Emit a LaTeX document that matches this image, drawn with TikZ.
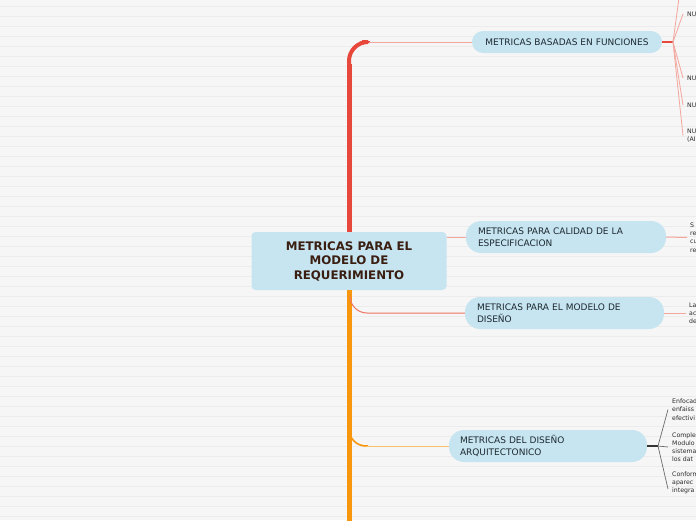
\documentclass[tikz,border=0pt]{standalone}
\usepackage{fontspec}
\setmainfont{DejaVu Sans}
\usepackage{tikz}

\definecolor{paper}{HTML}{F6F6F6}
\definecolor{stripe}{HTML}{ECECEC}
\definecolor{topicblue}{HTML}{C6E5F0}
\definecolor{topictext}{HTML}{1E2830}
\definecolor{centraltext}{HTML}{3A1E12}
\definecolor{trunkred}{HTML}{E8473C}
\definecolor{pinkline}{HTML}{F4A59C}
\definecolor{salmon}{HTML}{EE7462}
\definecolor{trunkorange}{HTML}{F8960E}
\definecolor{lightorange}{HTML}{F9C06A}
\definecolor{leaftext}{HTML}{2A2A2A}
\definecolor{graylink}{HTML}{6A6A6A}

\begin{document}
\begin{tikzpicture}[x=1pt, y=-1pt,
    topic/.style={fill=topicblue, text=topictext, font=\fontsize{9}{11.5}\selectfont,
        align=left, inner xsep=12pt, inner ysep=0pt, minimum height=32pt, rounded corners=15pt},
    leaf/.style={anchor=west, inner sep=0pt, align=left, text=leaftext,
        font=\fontsize{6.2}{8.2}\selectfont}]
    \useasboundingbox (0,0) rectangle (696,520);
    \clip (0,0) rectangle (696,520);
    \fill[paper] (0,0) rectangle (696,520);
    \foreach \y in {6,16,...,516}
        \draw[stripe, line width=0.8pt] (0,\y) -- (696,\y);

    \node[fill=topicblue, text=centraltext, rounded corners=4pt, minimum width=195pt,
        minimum height=58pt, align=center, font=\fontsize{11.8}{14.5}\selectfont\bfseries]
        at (349, 261) (central) {METRICAS PARA EL\\MODELO DE\\REQUERIMIENTO};

    \node[topic, minimum height=22pt, rounded corners=11pt, inner xsep=10pt, text width=170pt, align=center]
        at (567, 42) (basadas) {METRICAS BASADAS EN FUNCIONES};
    \node[topic, text width=176pt] at (566, 237) (calidad) {METRICAS PARA CALIDAD DE LA\\ESPECIFICACION};
    \node[topic, text width=175pt] at (564.5, 313) (diseno) {METRICAS PARA EL MODELO DE\\DISEÑO};
    \node[topic, text width=176pt, inner xsep=11pt] at (548, 446) (arqui) {METRICAS DEL DISEÑO\\ARQUITECTONICO};

    % leaves on the right edge
    \coordinate (hub1) at (673, 42);
    \coordinate (offtop) at (679, -2);
    \node[leaf] at (687, 14) (fa) {NU};
    \node[leaf] at (687, 78) (fb) {NU};
    \node[leaf] at (687, 105) (fc) {NU};
    \node[leaf] at (687, 135.5) (fd) {NU\\(AI};
    \node[leaf] at (690, 237.5) (ca) {S\\re\\cu\\re};
    \node[leaf] at (689, 313) (da) {La\\ac\\de};
    \coordinate (hub4) at (658, 446);
    \node[leaf] at (672, 409.5) (aa) {Enfocad\\enfaiss\\efectivi};
    \node[leaf] at (672, 447) (ab) {Comple\\Modulo\\sistema\\los dat};
    \node[leaf] at (672, 483) (ac) {Conform\\aparec\\integra};

    % main trunk
    \draw[trunkred, line width=5pt] (central.north) -- (349, 64);
    \draw[trunkred, line width=4pt, rounded corners=19pt] (349, 68) |- (362, 42);
    \draw[trunkred, line width=2pt] (360, 42.5) -- (370, 42);
    \draw[pinkline, line width=1pt] (369, 42) -- (basadas.west);
    \draw[trunkorange, line width=5pt] (central.south) -- (349, 522);

    % branches
    \draw[pinkline, line width=1pt] (central.east |- calidad.west) -- (calidad.west);
    \draw[salmon, line width=1pt, rounded corners=17pt] (350, 296) |- (diseno.west);
    \draw[trunkorange, line width=1.6pt, rounded corners=17pt] (349, 424) |- (368, 446);
    \draw[lightorange, line width=1pt] (366, 446) -- (arqui.west);

    % sub-branches
    \draw[trunkred, line width=2pt] (basadas.east) -- (hub1);
    \draw[pinkline, line width=0.8pt] (hub1) -- (offtop);
    \draw[pinkline, line width=0.8pt] (hub1) -- ([xshift=-4pt]fa.west);
    \draw[pinkline, line width=0.8pt] (hub1) -- ([xshift=-4pt]fb.west);
    \draw[pinkline, line width=0.8pt] (hub1) -- ([xshift=-4pt]fc.west);
    \draw[pinkline, line width=0.8pt] (hub1) -- ([xshift=-4pt]fd.west);
    \draw[pinkline, line width=1pt] (calidad.east) -- ([xshift=-3pt]ca.west);
    \draw[pinkline, line width=1pt] (diseno.east) -- ([xshift=-3pt]da.west);
    \draw[black!80, line width=1.2pt] (arqui.east) -- (hub4);
    \draw[graylink, line width=0.7pt] (hub4) -- ([xshift=-4pt]aa.west);
    \draw[graylink, line width=0.7pt] (hub4) -- ([xshift=-4pt]ab.west);
    \draw[graylink, line width=0.7pt] (hub4) -- ([xshift=-4pt, yshift=-6pt]ac.west);
\end{tikzpicture}
\end{document}
